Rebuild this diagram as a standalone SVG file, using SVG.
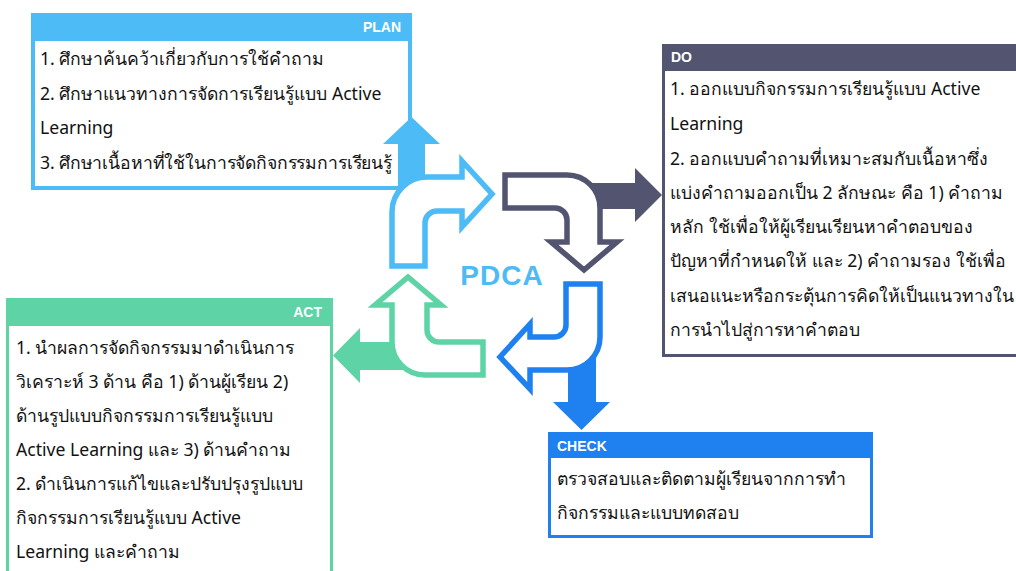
<svg xmlns="http://www.w3.org/2000/svg" width="1016" height="571" viewBox="0 0 1016 571">
<style>
  .body { font-family: "Noto Sans", "DejaVu Sans", sans-serif; font-size: 17.6px; fill: #111; }
  .hdr { font-family: "Liberation Sans", Arial, sans-serif; font-size: 14px; font-weight: bold; fill: #fff; }
  .hollow { fill: #fff; stroke-width: 5.5; stroke-linejoin: miter; }
  .title { font-family: "Liberation Sans", Arial, sans-serif; font-size: 28px; font-weight: bold; fill: #4CBBF6; }
</style>
<rect width="1016" height="571" fill="#fff"/>

<g id="plan">
  <rect x="33" y="15" width="377" height="173" fill="#fff" stroke="#4CBBF6" stroke-width="4"/>
  <rect x="31" y="13" width="381" height="28" fill="#4CBBF6"/>
  <text class="hdr" x="401" y="32" text-anchor="end">PLAN</text>
  <text class="body" x="40" y="65">1. ศึกษาค้นคว้าเกี่ยวกับการใช้คำถาม</text>
  <text class="body" x="40" y="100">2. ศึกษาแนวทางการจัดการเรียนรู้แบบ Active</text>
  <text class="body" x="40" y="134">Learning</text>
  <text class="body" x="40" y="169" letter-spacing="-0.15">3. ศึกษาเนื้อหาที่ใช้ในการจัดกิจกรรมการเรียนรู้</text>
</g>

<g id="do">
  <rect x="663.5" y="45.5" width="360" height="310" fill="#fff" stroke="#525470" stroke-width="3"/>
  <rect x="662" y="44" width="360" height="27" fill="#525470"/>
  <text class="hdr" x="671" y="62">DO</text>
  <text class="body" x="670" y="95">1. ออกแบบกิจกรรมการเรียนรู้แบบ Active</text>
  <text class="body" x="670" y="130">Learning</text>
  <text class="body" x="670" y="165">2. ออกแบบคำถามที่เหมาะสมกับเนื้อหาซึ่ง</text>
  <text class="body" x="670" y="199">แบ่งคำถามออกเป็น 2 ลักษณะ คือ 1) คำถาม</text>
  <text class="body" x="670" y="233">หลัก ใช้เพื่อให้ผู้เรียนเรียนหาคำตอบของ</text>
  <text class="body" x="670" y="267">ปัญหาที่กำหนดให้ และ 2) คำถามรอง ใช้เพื่อ</text>
  <text class="body" x="670" y="302">เสนอแนะหรือกระตุ้นการคิดให้เป็นแนวทางใน</text>
  <text class="body" x="670" y="336">การนำไปสู่การหาคำตอบ</text>
</g>

<g id="check">
  <rect x="549.5" y="433.5" width="322" height="103" fill="#fff" stroke="#1F80F0" stroke-width="3"/>
  <rect x="548" y="432" width="325" height="26" fill="#1F80F0"/>
  <text class="hdr" x="557" y="451">CHECK</text>
  <text class="body" x="557" y="485">ตรวจสอบและติดตามผู้เรียนจากการทำ</text>
  <text class="body" x="557" y="519">กิจกรรมและแบบทดสอบ</text>
</g>

<g id="act">
  <rect x="7.5" y="299.5" width="324" height="280" fill="#fff" stroke="#5DD3A6" stroke-width="3"/>
  <rect x="6" y="298" width="327" height="28" fill="#5DD3A6"/>
  <text class="hdr" x="322" y="317" text-anchor="end">ACT</text>
  <text class="body" x="16" y="354">1. นำผลการจัดกิจกรรมมาดำเนินการ</text>
  <text class="body" x="16" y="388">วิเคราะห์ 3 ด้าน คือ 1) ด้านผู้เรียน 2)</text>
  <text class="body" x="16" y="422">ด้านรูปแบบกิจกรรมการเรียนรู้แบบ</text>
  <text class="body" x="16" y="456">Active Learning และ 3) ด้านคำถาม</text>
  <text class="body" x="16" y="490">2. ดำเนินการแก้ไขและปรับปรุงรูปแบบ</text>
  <text class="body" x="16" y="524">กิจกรรมการเรียนรู้แบบ Active</text>
  <text class="body" x="16" y="558">Learning และคำถาม</text>
</g>

<g id="connectors">
  <path id="plan-out" d="M 398 190 L 398 144 L 383 144 L 411.5 117 L 440 144 L 425 144 L 425 190 Z" fill="#4CBBF6"/>
  <path id="do-out" d="M 590 183 L 635 183 L 635 168 L 662 195 L 635 222 L 635 209 L 590 209 Z" fill="#525470"/>
  <path id="check-out" d="M 568 355 L 568 402 L 553 402 L 581.5 430 L 610 402 L 596 402 L 596 355 Z" fill="#1F80F0"/>
  <path id="act-out" d="M 405 342 L 360 342 L 360 328 L 333 355.5 L 360 383 L 360 370 L 405 370 Z" fill="#5DD3A6"/>

  <path id="plan-cycle" class="hollow" stroke="#4CBBF6" d="M 392 266 L 392 212 A 35 35 0 0 1 427 177 L 462 177 L 462 161 L 492 194 L 462 227 L 462 211 L 437 211 A 12 12 0 0 0 425 223 L 425 266 Z"/>
  <path id="do-cycle" class="hollow" stroke="#525470" d="M 505 175 L 567 175 A 33 33 0 0 1 600 208 L 600 242 L 617 242 L 584 270 L 551 242 L 567 242 L 567 220 A 12 12 0 0 0 555 208 L 505 208 Z"/>
  <path id="check-cycle" class="hollow" stroke="#1F80F0" d="M 566 284 L 600 284 L 600 337 A 33 33 0 0 1 567 370 L 530 370 L 530 389 L 500 357 L 530 324 L 530 337 L 554 337 A 12 12 0 0 0 566 325 Z"/>
  <path id="act-cycle" class="hollow" stroke="#5DD3A6" d="M 483 342 L 439 342 A 12 12 0 0 1 427 330 L 427 305 L 441 305 L 408 277 L 375 305 L 392 305 L 392 342 A 33 33 0 0 0 425 375 L 483 375 Z"/>
</g>

<text class="title" x="502" y="285" text-anchor="middle" letter-spacing="1">PDCA</text>
</svg>
